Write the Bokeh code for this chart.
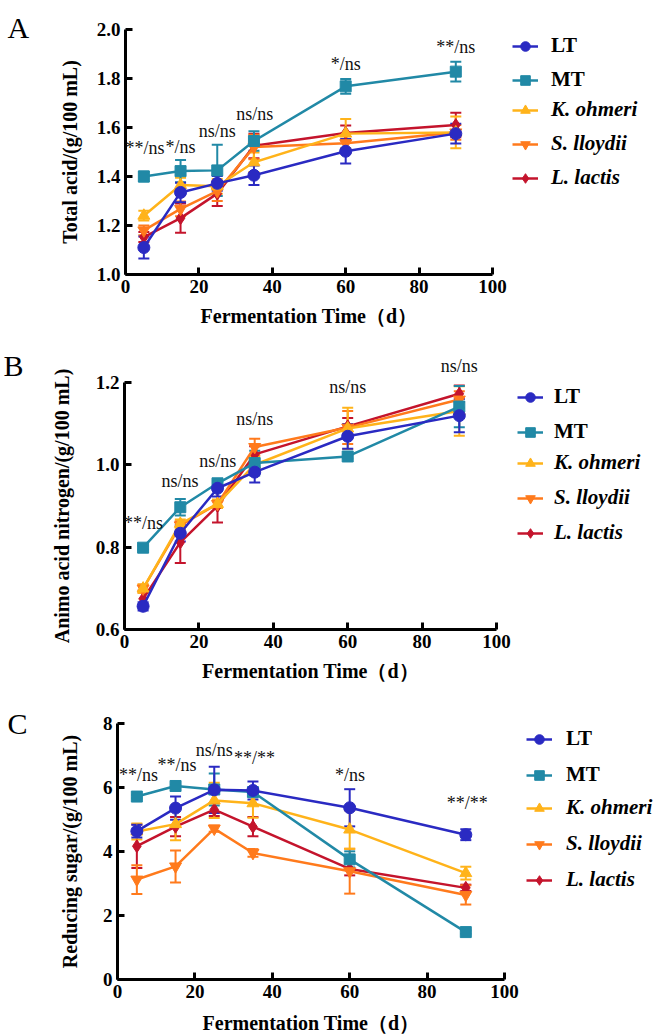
from bokeh.plotting import figure
from bokeh.models import (ColumnDataSource, Whisker, TeeHead, Legend, LegendItem,
                          Label, LabelSet, FixedTicker, Range1d, PrintfTickFormatter,
                          LinearAxis)
from bokeh.layouts import column
from bokeh.embed import file_html
from bokeh.resources import INLINE

# Sampling days
days = [5, 15, 25, 35, 60, 90]

series_names = ["LT", "MT", "K. ohmeri", "S. lloydii", "L. lactis"]
colors = ["#2A2AC2", "#2189A6", "#FFB31A", "#FF7A1C", "#C4142C"]
markers = ["circle", "square", "triangle", "inverted_triangle", "diamond"]
marker_sizes = [12, 11, 12, 12, 13]

# Total acid (g/100 mL): mean and SD
acid_LT = [1.11, 1.335, 1.372, 1.405, 1.503, 1.575]
acid_LT_sd = [0.045, 0.04, 0.03, 0.04, 0.05, 0.04]
acid_MT = [1.40, 1.422, 1.425, 1.545, 1.768, 1.828]
acid_MT_sd = [0.02, 0.045, 0.105, 0.04, 0.03, 0.04]
acid_K = [1.24, 1.365, 1.36, 1.458, 1.575, 1.58]
acid_K_sd = [0.02, 0.03, 0.03, 0.04, 0.06, 0.065]
acid_S = [1.18, 1.268, 1.34, 1.52, 1.536, 1.58]
acid_S_sd = [0.02, 0.03, 0.04, 0.05, 0.04, 0.03]
acid_L = [1.153, 1.23, 1.33, 1.525, 1.578, 1.61]
acid_L_sd = [0.02, 0.06, 0.05, 0.05, 0.03, 0.05]

# Amino acid nitrogen (g/100 mL): mean and SD
amn_LT = [0.657, 0.834, 0.943, 0.982, 1.069, 1.119]
amn_LT_sd = [0.01, 0.02, 0.02, 0.025, 0.03, 0.04]
amn_MT = [0.799, 0.897, 0.955, 1.004, 1.02, 1.141]
amn_MT_sd = [0.005, 0.02, 0.01, 0.03, 0.005, 0.05]
amn_K = [0.70, 0.857, 0.905, 1.0, 1.088, 1.13]
amn_K_sd = [0.01, 0.01, 0.01, 0.02, 0.05, 0.06]
amn_S = [0.70, 0.853, 0.905, 1.043, 1.09, 1.158]
amn_S_sd = [0.01, 0.01, 0.01, 0.02, 0.04, 0.02]
amn_L = [0.675, 0.812, 0.90, 1.025, 1.093, 1.172]
amn_L_sd = [0.02, 0.05, 0.04, 0.02, 0.02, 0.02]

# Reducing sugar (g/100 mL): mean and SD
sug_LT = [4.63, 5.35, 5.92, 5.9, 5.36, 4.52]
sug_LT_sd = [0.2, 0.36, 0.72, 0.28, 0.58, 0.17]
sug_MT = [5.71, 6.04, 5.93, 5.85, 3.75, 1.48]
sug_MT_sd = [0.05, 0.05, 0.5, 0.05, 0.25, 0.05]
sug_K = [4.62, 4.85, 5.59, 5.5, 4.68, 3.32]
sug_K_sd = [0.25, 0.5, 0.55, 0.45, 0.6, 0.2]
sug_S = [3.12, 3.53, 4.71, 3.95, 3.38, 2.64]
sug_S_sd = [0.45, 0.5, 0.1, 0.12, 0.7, 0.3]
sug_L = [4.16, 4.77, 5.3, 4.77, 3.45, 2.86]
sug_L_sd = [0.68, 0.3, 0.2, 0.3, 0.2, 0.1]

# Significance labels (text, day, baseline value)
acid_sig = ["**/ns", "*/ns", "ns/ns", "ns/ns", "*/ns", "**/ns"]
acid_sig_x = [5.3, 15, 25, 35.2, 60, 90]
acid_sig_y = [1.493, 1.495, 1.56, 1.629, 1.833, 1.903]

amn_sig = ["**/ns", "ns/ns", "ns/ns", "ns/ns", "ns/ns", "ns/ns"]
amn_sig_x = [5.1, 14.9, 25.1, 35, 60, 90]
amn_sig_y = [0.845, 0.947, 0.994, 1.097, 1.173, 1.224]

sug_sig = ["**/ns", "**/ns", "ns/ns", "**/**", "*/ns", "**/**"]
sug_sig_x = [5.4, 15.4, 25, 35.4, 60.1, 90.4]
sug_sig_y = [6.21, 6.52, 6.99, 6.73, 6.21, 5.33]

x_ticks = [0, 20, 40, 60, 80, 100]
acid_ticks = [1.0, 1.2, 1.4, 1.6, 1.8, 2.0]
amn_ticks = [0.6, 0.8, 1.0, 1.2]
sug_ticks = [0, 2, 4, 6, 8]

SERIF = "Liberation Serif"
W = 660


def make_panel(letter, means, sds, y_lim, y_ticks, y_fmt, y_label, sig, sig_x, sig_y,
               height, ax_left, ax_right, ax_top, ax_bottom, y_title_standoff,
               x_title_standoff, letter_x, letter_base, leg_x, leg_centers, leg_standoff):
    # The plotting frame fills the whole canvas; the axes are pinned at x=0 and
    # y=y_lim[0] so that the panel letter and legend sit in the free margin.
    x0, x1 = 0.0, 100.0
    y0, y1 = y_lim
    xs = (x1 - x0) / (ax_right - ax_left)
    ys = (y1 - y0) / (ax_bottom - ax_top)
    xr = Range1d(x0 - ax_left * xs, x1 + (W - ax_right) * xs)
    yr = Range1d(y0 - (height - ax_bottom) * ys, y1 + ax_top * ys)

    p = figure(width=W, height=height, x_range=xr, y_range=yr,
               output_backend="svg", toolbar_location=None,
               x_axis_location=None, y_axis_location=None, min_border=0)
    p.outline_line_color = None
    p.xgrid.visible = False
    p.ygrid.visible = False
    p.background_fill_color = "white"
    p.border_fill_color = "white"

    xaxis = LinearAxis(fixed_location=y0, bounds=(x0, x1))
    yaxis = LinearAxis(fixed_location=x0, bounds=(y0, y1))
    for ax in (xaxis, yaxis):
        ax.axis_line_width = 3
        ax.axis_line_color = "black"
        ax.major_tick_line_width = 3
        ax.major_tick_line_color = "black"
        ax.major_tick_in = 7
        ax.major_tick_out = 0
        ax.minor_tick_line_color = None
        ax.major_label_text_font = SERIF
        ax.major_label_text_font_style = "bold"
        ax.major_label_text_font_size = "19px"
        ax.major_label_text_color = "black"
        ax.axis_label_text_font = SERIF
        ax.axis_label_text_font_style = "bold"
        ax.axis_label_text_font_size = "20px"
        ax.axis_label_text_color = "black"
        ax.major_label_standoff = 5
    xaxis.ticker = FixedTicker(ticks=x_ticks)
    yaxis.ticker = FixedTicker(ticks=y_ticks)
    yaxis.formatter = PrintfTickFormatter(format=y_fmt)
    xaxis.axis_label = "Fermentation Time（d）"
    yaxis.axis_label = y_label
    xaxis.axis_label_standoff = x_title_standoff
    yaxis.axis_label_standoff = y_title_standoff
    p.add_layout(xaxis, "below")
    p.add_layout(yaxis, "left")

    renderers = {}
    for i in [4, 3, 2, 1, 0]:
        c = colors[i]
        m = means[i]
        s = sds[i]
        src = ColumnDataSource(dict(x=days, y=m,
                                    upper=[a + b for a, b in zip(m, s)],
                                    lower=[a - b for a, b in zip(m, s)]))
        w = Whisker(source=src, base="x", upper="upper", lower="lower",
                    line_color=c, line_width=2,
                    upper_head=TeeHead(size=11, line_color=c, line_width=2),
                    lower_head=TeeHead(size=11, line_color=c, line_width=2))
        p.add_layout(w)
        ln = p.line("x", "y", source=src, line_color=c, line_width=2.5)
        sc = p.scatter("x", "y", source=src, marker=markers[i], size=marker_sizes[i],
                       fill_color=c, line_color=c)
        renderers[i] = [ln, sc]

    labels = ColumnDataSource(dict(x=sig_x, y=sig_y, text=sig))
    p.add_layout(LabelSet(x="x", y="y", text="text", source=labels,
                          text_font=SERIF, text_font_size="18px", text_color="#111111",
                          text_align="center", text_baseline="alphabetic"))

    # Two legends: strain codes upright, species names italic
    item_h = 24
    spacing = int(round((leg_centers[-1] - leg_centers[0]) / 4.0 - item_h))
    for idx, style in (([0, 1], "bold"), ([2, 3, 4], "bold italic")):
        items = [LegendItem(label=series_names[i], renderers=renderers[i]) for i in idx]
        bottom = leg_centers[idx[-1]] + item_h / 2.0
        leg = Legend(items=items, location=(leg_x, height - bottom),
                     orientation="vertical", glyph_width=26, glyph_height=item_h,
                     label_height=item_h, spacing=spacing, padding=0, margin=0,
                     label_standoff=leg_standoff, border_line_color=None,
                     background_fill_alpha=0, label_text_font=SERIF,
                     label_text_font_style=style, label_text_font_size="21px",
                     label_text_color="black")
        p.add_layout(leg)

    p.add_layout(Label(x=letter_x, y=height - letter_base, x_units="screen",
                       y_units="screen", text=letter, text_font=SERIF,
                       text_font_size="30px", text_color="black",
                       text_baseline="alphabetic"))
    return p


pa = make_panel("A", [acid_LT, acid_MT, acid_K, acid_S, acid_L],
                [acid_LT_sd, acid_MT_sd, acid_K_sd, acid_S_sd, acid_L_sd],
                (1.0, 2.0), acid_ticks, "%.1f", "Total acid/(g/100 mL)",
                acid_sig, acid_sig_x, acid_sig_y,
                height=340, ax_left=125, ax_right=492, ax_top=29, ax_bottom=274,
                y_title_standoff=13, x_title_standoff=9, letter_x=7, letter_base=27,
                leg_x=512, leg_centers=[46, 80, 113, 146, 178], leg_standoff=13)

pb = make_panel("B", [amn_LT, amn_MT, amn_K, amn_S, amn_L],
                [amn_LT_sd, amn_MT_sd, amn_K_sd, amn_S_sd, amn_L_sd],
                (0.6, 1.2), amn_ticks, "%.1f", "Animo acid nitrogen/(g/100 mL)",
                amn_sig, amn_sig_x, amn_sig_y,
                height=343, ax_left=124, ax_right=496, ax_top=41.7, ax_bottom=289.3,
                y_title_standoff=20, x_title_standoff=9, letter_x=3, letter_base=25,
                leg_x=517, leg_centers=[59, 92, 126, 160, 193], leg_standoff=11)

pc = make_panel("C", [sug_LT, sug_MT, sug_K, sug_S, sug_L],
                [sug_LT_sd, sug_MT_sd, sug_K_sd, sug_S_sd, sug_L_sd],
                (0, 8), sug_ticks, "%d", "Reducing sugar/(g/100 mL)",
                sug_sig, sug_sig_x, sug_sig_y,
                height=352, ax_left=117, ax_right=504, ax_top=39.7, ax_bottom=296,
                y_title_standoff=19, x_title_standoff=11, letter_x=7, letter_base=40,
                leg_x=526, leg_centers=[56, 92, 127, 162, 197], leg_standoff=14)

layout = column(pa, pb, pc, spacing=0)
open("out.html", "w").write(file_html(layout, INLINE))
